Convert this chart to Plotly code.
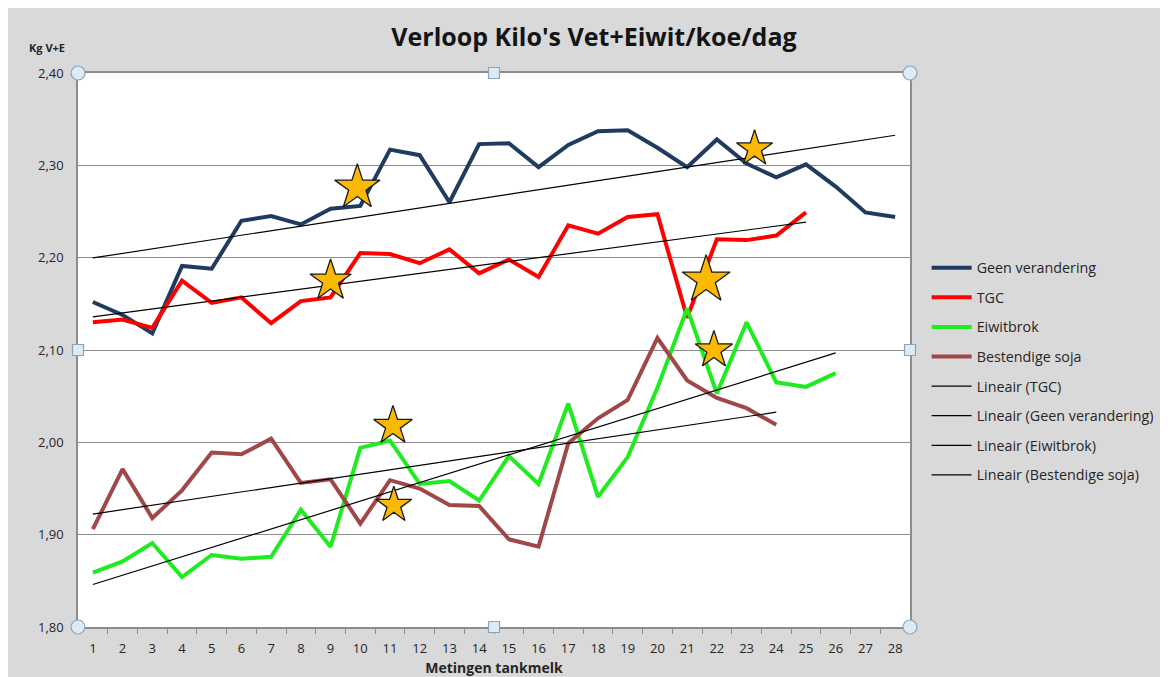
import numpy as np
import plotly.graph_objects as go

# ---------------- data ----------------
geen_verandering = [2.152, 2.138, 2.118, 2.191, 2.188, 2.240, 2.245, 2.236, 2.253, 2.256,
                    2.317, 2.311, 2.260, 2.323, 2.324, 2.298, 2.322, 2.337, 2.338, 2.319,
                    2.298, 2.328, 2.302, 2.287, 2.301, 2.277, 2.249, 2.244]
tgc = [2.130, 2.133, 2.124, 2.175, 2.151, 2.157, 2.129, 2.153, 2.157, 2.205,
       2.204, 2.194, 2.209, 2.183, 2.198, 2.179, 2.235, 2.226, 2.244, 2.247,
       2.135, 2.220, 2.219, 2.224, 2.249]
eiwitbrok = [1.859, 1.871, 1.891, 1.854, 1.878, 1.874, 1.876, 1.927, 1.887, 1.994,
             2.002, 1.955, 1.958, 1.937, 1.985, 1.955, 2.042, 1.941, 1.984, 2.059,
             2.145, 2.053, 2.130, 2.065, 2.060, 2.075]
bestendige_soja = [1.906, 1.971, 1.918, 1.948, 1.989, 1.987, 2.004, 1.956, 1.960, 1.912,
                   1.959, 1.950, 1.932, 1.931, 1.895, 1.887, 1.999, 2.026, 2.046, 2.113,
                   2.067, 2.048, 2.037, 2.019]
metingen = list(range(1, 29))
tick_labels = [str(m) for m in metingen]

# decorative stars (x in measurement units, y in kg)
star_x = [9.9, 9.0, 23.27, 21.64, 21.9, 11.1, 11.13]
star_y = [2.276, 2.175, 2.318, 2.176, 2.100, 2.018, 1.932]
star_size = [34, 31, 27, 36, 28, 29, 27]

series = [
    ("Geen verandering", geen_verandering, "#1f3b60"),
    ("TGC", tgc, "#ff0000"),
    ("Eiwitbrok", eiwitbrok, "#1eec1e"),
    ("Bestendige soja", bestendige_soja, "#a0474a"),
]
trend_order = ["TGC", "Geen verandering", "Eiwitbrok", "Bestendige soja"]

fig = go.Figure()
for i, (name, vals, col) in enumerate(series):
    fig.add_trace(go.Scatter(
        x=metingen[:len(vals)], y=vals, mode="lines", name=name,
        line=dict(color=col, width=4), legendgroup=f"g{i}"))

lookup = {n: v for n, v, _ in series}
for j, name in enumerate(trend_order):
    vals = lookup[name]
    xs = np.array(metingen[:len(vals)], dtype=float)
    a, b = np.polyfit(xs, np.array(vals), 1)
    fig.add_trace(go.Scatter(
        x=[xs[0], xs[-1]], y=[a * xs[0] + b, a * xs[-1] + b], mode="lines",
        name=f"Lineair ({name})", line=dict(color="#000000", width=1.2),
        legendgroup=f"t{j}"))

fig.add_trace(go.Scatter(
    x=star_x, y=star_y, mode="markers", showlegend=False, hoverinfo="skip",
    marker=dict(symbol="star", size=star_size, color="#fbb901", opacity=1,
                line=dict(color="#1a1a1a", width=1.3))))

# Excel-style selection handles
handles = []
for (hx, hy, kind) in [(0, 1, "circle"), (0.5, 1, "rect"), (1, 1, "circle"),
                       (0, 0.5, "rect"), (1, 0.5, "rect"),
                       (0, 0, "circle"), (0.5, 0, "rect"), (1, 0, "circle")]:
    r = 7 if kind == "circle" else 5.5
    handles.append(dict(type=kind, xref="paper", yref="paper",
                        xsizemode="pixel", ysizemode="pixel",
                        xanchor=hx, yanchor=hy, x0=-r, x1=r, y0=-r, y1=r,
                        fillcolor="#dcebf5", line=dict(color="#8aa5bb", width=1.2),
                        layer="above"))

W, H = 1160, 669
fig.update_layout(
    width=W, height=H,
    paper_bgcolor="#d9d9d9", plot_bgcolor="#ffffff",
    margin=dict(l=70, r=258, t=65, b=50, autoexpand=False),
    separators=",.",
    font=dict(family="'Open Sans', Lato, sans-serif", color="#262626", size=13),
    title=dict(text="<b>Verloop Kilo's Vet+Eiwit/koe/dag</b>", x=586 / W, xanchor="center",
               y=1 - 29 / H, yanchor="middle",
               font=dict(size=25, color="#141414")),
    showlegend=True,
    legend=dict(x=1.02, xanchor="left", y=0.677, yanchor="top",
                bgcolor="rgba(0,0,0,0)", tracegroupgap=8,
                font=dict(size=14.3, color="#262626"), itemwidth=40),
    xaxis=dict(range=[0.5, 28.5], tickmode="array", tickvals=metingen,
               ticktext=tick_labels, ticks="", showgrid=False, zeroline=False,
               showline=True, linecolor="#8c8c8c", linewidth=1.5, mirror=True,
               tickfont=dict(size=13, color="#262626"), ticklabelstandoff=9,
               automargin=False,
               minor=dict(tick0=0.5, dtick=1, ticks="outside", ticklen=5,
                          tickcolor="#8c8c8c", showgrid=False),
               title=dict(text="<b>Metingen tankmelk</b>", font=dict(size=14),
                          standoff=13)),
    yaxis=dict(range=[1.80, 2.40], dtick=0.1, tickformat=".2f",
               showgrid=True, gridcolor="#8c8c8c", gridwidth=1, zeroline=False,
               showline=True, linecolor="#8c8c8c", linewidth=1.5, mirror=True,
               ticks="", ticklabelstandoff=10, automargin=False,
               tickfont=dict(size=13, color="#262626")),
    shapes=handles,
    annotations=[dict(text="<b>Kg V+E</b>", xref="paper", yref="paper",
                      x=(39 - 70) / 832, y=(619 - 39) / 554, showarrow=False,
                      xanchor="center", yanchor="middle",
                      font=dict(size=11, color="#262626"))],
)

fig.write_html("out.html")
